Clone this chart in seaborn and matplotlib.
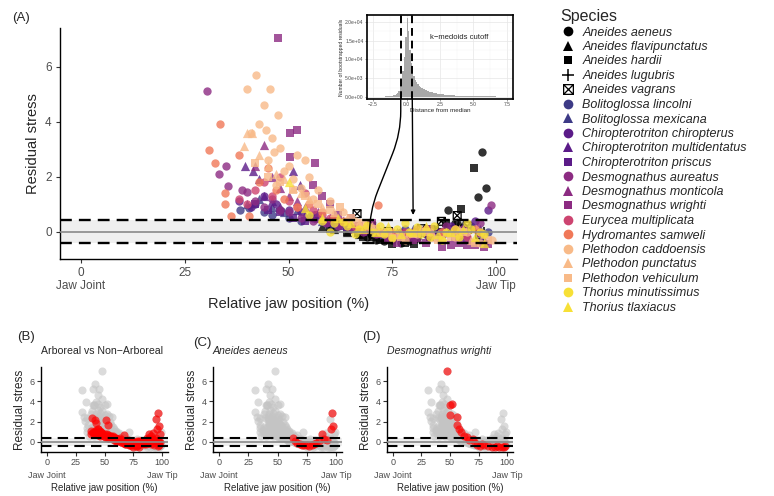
import matplotlib
matplotlib.use("Agg")
import matplotlib.pyplot as plt
from matplotlib.lines import Line2D
from matplotlib.path import Path
from matplotlib.patches import ConnectionPatch
import numpy as np
import pandas as pd
import seaborn as sns

# ---- data ----
species = ["Aneides aeneus", "Aneides flavipunctatus", "Aneides hardii", "Aneides lugubris",
           "Aneides vagrans", "Bolitoglossa lincolni", "Bolitoglossa mexicana",
           "Chiropterotriton chiropterus", "Chiropterotriton multidentatus", "Chiropterotriton priscus",
           "Desmognathus aureatus", "Desmognathus monticola", "Desmognathus wrighti",
           "Eurycea multiplicata", "Hydromantes samweli", "Plethodon caddoensis",
           "Plethodon punctatus", "Plethodon vehiculum", "Thorius minutissimus", "Thorius tlaxiacus"]

aeneus_x = [63, 65, 67, 69, 71, 73, 75, 77, 79, 81, 83, 85, 88.3, 90, 92, 95.5, 97.5, 96.6]
aeneus_y = [0.35, 0.1, -0.1, -0.2, -0.3, -0.35, -0.3, -0.4, -0.35, -0.25, -0.1, 0.1, 0.8, 0.3, 0.15, 1.27, 1.6, 2.9]
flavipunctatus_x = [58, 61, 64, 67, 70, 73, 76, 79, 82, 85, 88, 91, 94, 97]
flavipunctatus_y = [0.2, 0.1, 0.0, -0.1, -0.15, -0.2, -0.1, 0.0, 0.05, 0.1, 0.2, 0.3, 0.2, -0.3]
hardii_x = [60, 64, 68, 72, 75, 78, 80.3, 84, 88, 91.6, 94.7]
hardii_y = [0.1, 0.0, -0.2, -0.3, -0.47, -0.4, -0.47, -0.2, 0.3, 0.83, 2.3]
lugubris_x = [62, 66, 70, 74, 78, 82, 86, 90, 94, 97]
lugubris_y = [0.2, 0.0, -0.1, -0.2, -0.1, 0.0, 0.1, 0.2, 0.1, 0.0]
vagrans_x = [60, 66.5, 70, 74, 78, 82, 86.8, 90.6, 93, 96]
vagrans_y = [0.3, 0.65, 0.2, 0.0, -0.1, 0.1, 0.37, 0.58, 0.2, -0.1]
lincolni_x = [38.4, 40.4, 42, 44, 46, 48, 50, 53, 56, 59, 62, 66, 70, 74, 78, 82, 86, 90, 94, 98]
lincolni_y = [0.8, 0.87, 1.0, 0.7, 0.6, 0.8, 0.5, 0.4, 0.6, 0.3, 0.2, 0.1, 0.0, -0.1, 0.1, 0.0, -0.2, 0.1, 0.2, 0.0]
mexicana_x = [40, 43, 46, 49, 52, 55, 58, 61, 64, 67, 70, 73, 76, 80, 84, 88, 92, 96]
mexicana_y = [1.0, 1.2, 0.9, 0.7, 0.8, 0.6, 0.4, 0.3, 0.2, 0.1, 0.0, -0.1, 0.0, 0.1, -0.1, 0.0, 0.2, 0.1]
chiropterus_x = [38, 41, 44, 47, 50, 53, 56, 59, 62, 65, 68, 71, 74, 77, 80, 83, 86, 89, 92, 95, 98]
chiropterus_y = [1.1, 0.9, 1.3, 1.0, 0.8, 0.7, 0.5, 0.4, 0.3, 0.2, 0.1, 0.0, -0.1, 0.0, -0.2, -0.1, 0.0, 0.2, 0.1, 0.4, 0.8]
multidentatus_x = [39.5, 41.5, 42.8, 44, 46, 48, 51, 52.8, 54, 57, 60, 64, 68, 72, 76, 80, 84, 88, 92, 96]
multidentatus_y = [2.4, 2.2, 1.9, 1.3, 1.1, 0.9, 2.2, 1.7, 0.6, 0.5, 0.4, 0.2, 0.1, 0.0, -0.1, 0.0, 0.1, 0.0, -0.1, 0.0]
priscus_x = [42, 45, 48, 51, 54, 57, 60, 63, 66, 69, 72, 75, 78, 81, 84, 87, 90, 93, 96]
priscus_y = [1.0, 0.8, 0.7, 0.5, 0.4, 0.6, 0.3, 0.2, 0.1, 0.0, -0.1, -0.2, -0.1, 0.0, 0.1, -0.1, -0.2, -0.3, -0.4]
aureatus_x = [30.4, 33.3, 35, 35.5, 38.8, 40, 42, 44, 46, 48, 50, 53, 56, 59, 62, 65, 68, 71, 74, 77,
              80, 84, 88, 92, 96, 98.8]
aureatus_y = [5.1, 2.1, 2.4, 1.65, 1.5, 1.42, 1.1, 0.9, 1.2, 0.8, 0.7, 0.5, 0.4, 0.3, 0.2, 0.1, 0.0, -0.1, -0.2, -0.1,
              0.0, 0.1, 0.2, 0.1, 0.3, 0.95]
monticola_x = [42, 44, 46, 48, 50, 52, 54, 57, 60, 63, 66, 69, 72, 75, 78, 81, 84, 87, 90, 93, 96]
monticola_y = [2.4, 3.15, 2.0, 1.6, 1.3, 1.1, 0.9, 0.7, 0.5, 0.4, 0.2, 0.1, 0.0, -0.1, 0.0, -0.2, -0.1, 0.0, 0.1, -0.1, 0.0]
wrighti_x = [47.5, 50.4, 52, 50.4, 56.4, 56, 58, 60, 62, 65, 67, 70, 72, 74, 76, 78, 80, 83, 87, 89,
             91, 93, 95, 97, 98]
wrighti_y = [7.05, 3.6, 3.7, 2.7, 2.5, 1.7, 1.3, 1.0, 0.6, 0.5, 0.2, 0.3, -0.1, -0.3, -0.4, -0.2, -0.3, -0.4, -0.55, -0.5,
             -0.4, -0.5, -0.5, -0.55, -0.45]
multiplicata_x = [38, 40, 42, 44, 46, 48, 50, 52, 54, 56, 58, 60, 63, 66, 69, 72, 75, 78, 81, 84, 87, 90, 93, 96]
multiplicata_y = [1.2, 1.0, 1.5, 1.8, 1.3, 2.0, 1.1, 0.9, 1.4, 0.8, 0.6, 0.5, 0.4, 0.2, 0.1, 0.0, -0.1, 0.0, 0.1, -0.1,
                  0.0, 0.1, -0.2, 0.0]
samweli_x = [30.8, 32.4, 33.6, 34.8, 34.8, 36.2, 38.2, 40.5, 43, 45, 47, 49, 52, 55, 58, 61, 64, 67, 71.5, 75,
             79, 83, 87, 91, 95]
samweli_y = [2.95, 2.5, 3.9, 1.4, 1.0, 0.55, 2.8, 0.55, 1.8, 2.3, 1.5, 1.2, 0.9, 1.0, 0.7, 0.5, 0.4, 0.2, 0.98, 0.0,
             -0.1, 0.1, 0.0, -0.1, 0.1]
caddoensis_x = [40, 42.2, 45.6, 47.5, 44, 41, 43, 46, 48, 50, 52, 54, 55, 57, 60, 63, 66, 69, 72, 75,
                78, 81, 84, 87, 90, 93, 96, 99, 44.5, 46.5, 49, 51, 45, 47, 53, 56]
caddoensis_y = [5.2, 5.7, 5.2, 4.25, 4.6, 3.6, 3.9, 3.4, 3.05, 2.4, 2.8, 2.6, 2.0, 1.5, 1.1, 0.7, 0.4, 0.2, 0.0, -0.2,
                -0.3, -0.1, 0.0, -0.3, -0.2, 0.0, -0.4, -0.3, 3.7, 2.9, 2.2, 1.9, 2.6, 1.7, 1.6, 1.2]
punctatus_x = [39.4, 40, 41.3, 43, 45, 47, 49, 51, 53, 55, 58, 61, 64, 67, 70, 73, 76, 79, 82, 85, 88, 91, 94, 97]
punctatus_y = [3.1, 3.6, 3.6, 2.8, 2.4, 2.1, 1.9, 1.6, 1.4, 1.2, 0.9, 0.7, 0.5, 0.3, 0.2, 0.0, -0.1, 0.0, 0.1, -0.2,
               0.0, 0.1, -0.3, -0.1]
vehiculum_x = [42, 45, 48, 51, 54, 57, 60, 62.4, 65, 68, 71, 74, 77, 80, 83, 86, 89, 92, 95, 98]
vehiculum_y = [2.5, 2.0, 1.8, 1.5, 1.3, 1.0, 0.8, 0.9, 0.5, 0.3, 0.1, 0.0, -0.2, -0.1, 0.0, -0.3, -0.2, 0.0, -0.4, -0.3]
minutissimus_x = [55, 58, 61, 64, 67, 70, 73, 76, 79, 82, 85, 88, 91, 94, 97, 60, 66, 72, 78, 84, 90, 96,
                  63, 69, 75, 81, 87, 93]
minutissimus_y = [0.6, 0.4, 0.3, 0.2, 0.1, 0.0, -0.1, 0.1, 0.0, -0.1, 0.2, 0.0, -0.2, 0.1, -0.1, 0.0, -0.1, 0.2, 0.3,
                  -0.2, 0.1, 0.0, 0.35, 0.25, -0.25, 0.15, -0.3, 0.3]
tlaxiacus_x = [50, 54, 58, 62, 65, 68, 71, 74, 77, 80, 83, 86, 89, 92, 95, 97]
tlaxiacus_y = [1.8, 0.87, 0.5, 0.5, 0.3, 0.1, 0.0, 0.2, -0.1, 0.0, 0.2, -0.1, 0.0, 0.1, -0.2, -0.4]

arboreal = ["Aneides aeneus", "Aneides flavipunctatus", "Aneides hardii", "Aneides lugubris",
            "Aneides vagrans", "Bolitoglossa lincolni", "Bolitoglossa mexicana",
            "Chiropterotriton chiropterus", "Chiropterotriton multidentatus", "Chiropterotriton priscus"]
cutoff = 0.43

# bootstrapped residual distance histogram (bins of 0.1 from -2.8)
hist_counts = [20, 20, 30, 30, 40, 40, 50, 60, 70, 80, 90, 110, 130, 150, 180, 220, 270, 330,
               420, 560, 760, 1100, 1700,
               2900, 4600, 6800, 10500, 16000,
               21000, 17500, 12500, 9000, 7000,
               5600, 4600, 3900, 3400, 3000,
               2700, 2400, 2200, 2000, 1800,
               1650, 1500, 1400, 1300, 1200,
               1100, 1020, 950, 880, 820,
               760, 710, 660, 620, 580,
               540, 510, 480, 450, 420,
               400, 380, 360, 340, 320,
               300, 290, 280, 270, 260,
               250, 240, 230, 220, 210,
               200, 195, 190, 185, 180,
               175, 170, 165, 160, 155,
               150, 145, 140, 135, 130,
               125, 120, 115, 110, 105,
               100, 95, 90, 85, 80,
               75, 70, 65]
hist_start = -2.8
hist_width = 0.1

xtick_vals = [0, 25, 50, 75, 100]
xtick_text = ["0\nJaw Joint", "25", "50", "75", "100\nJaw Tip"]

# ---- table ----
series_x = [aeneus_x, flavipunctatus_x, hardii_x, lugubris_x, vagrans_x, lincolni_x, mexicana_x,
            chiropterus_x, multidentatus_x, priscus_x, aureatus_x, monticola_x, wrighti_x,
            multiplicata_x, samweli_x, caddoensis_x, punctatus_x, vehiculum_x, minutissimus_x, tlaxiacus_x]
series_y = [aeneus_y, flavipunctatus_y, hardii_y, lugubris_y, vagrans_y, lincolni_y, mexicana_y,
            chiropterus_y, multidentatus_y, priscus_y, aureatus_y, monticola_y, wrighti_y,
            multiplicata_y, samweli_y, caddoensis_y, punctatus_y, vehiculum_y, minutissimus_y, tlaxiacus_y]
df = pd.concat([pd.DataFrame({"species": sp, "x": xs, "y": ys})
                for sp, xs, ys in zip(species, series_x, series_y)], ignore_index=True)

hist_df = pd.DataFrame({"dist": np.round(hist_start + hist_width * (np.arange(len(hist_counts)) + 0.5), 3),
                        "n": hist_counts})

# ---- styles ----
genus_colors = {"Aneides": "#000000", "Bolitoglossa": "#3d3a86", "Chiropterotriton": "#5b1b88",
                "Desmognathus": "#8c2b82", "Eurycea": "#cd4470", "Hydromantes": "#f07858",
                "Plethodon": "#f8ba88", "Thorius": "#f7e036"}
boxx = Path([(-1, -1), (1, -1), (1, 1), (-1, 1), (-1, -1), (-1, -1), (1, 1), (-1, 1), (1, -1)],
            [Path.MOVETO, Path.LINETO, Path.LINETO, Path.LINETO, Path.CLOSEPOLY,
             Path.MOVETO, Path.LINETO, Path.MOVETO, Path.LINETO])
shape_cycle = ["o", "^", "s", "+", boxx]
marker_of, color_of = {}, {}
count = {}
for sp in species:
    g = sp.split()[0]
    k = count.get(g, 0)
    count[g] = k + 1
    marker_of[sp] = shape_cycle[k]
    color_of[sp] = genus_colors[g]
size_of = {"o": 36, "^": 44, "s": 30, "+": 48}

sns.set_style("ticks")
plt.rcParams["font.family"] = ["Liberation Sans", "DejaVu Sans"]
plt.rcParams["axes.unicode_minus"] = True

fig = plt.figure(figsize=(7.74, 4.96), dpi=100)
W, H = 774, 496


def px_axes(l, t, r, b):
    return fig.add_axes([l / W, 1 - b / H, (r - l) / W, (b - t) / H])


def base_panel(a, tick_size, xlab_size, ylab_size, lw_dash, pad, labelpad, lsp):
    a.axhspan(-cutoff, cutoff, color="#efefef", lw=0, zorder=0)
    a.axhline(0, color="#8a8a8a", lw=1.2, zorder=3)
    for v in (-cutoff, cutoff):
        a.axhline(v, color="black", lw=lw_dash, ls=(0, (5, 3)), zorder=4)
    a.set_xlim(-5, 105)
    a.set_ylim(-1, 7.4)
    a.set_xticks(xtick_vals)
    a.set_xticklabels(xtick_text, linespacing=lsp)
    a.set_yticks([0, 2, 4, 6])
    a.tick_params(labelsize=tick_size, colors="#4d4d4d", length=3, width=0.8, pad=pad)
    a.tick_params(axis="both", color="#333333")
    for s in ("left", "bottom"):
        a.spines[s].set_linewidth(1.0)
        a.spines[s].set_color("black")
    sns.despine(ax=a)
    a.set_xlabel("Relative jaw position (%)", fontsize=xlab_size, labelpad=labelpad)
    a.set_ylabel("Residual stress", fontsize=ylab_size, labelpad=labelpad)


# ---- panel A ----
ax = px_axes(60, 28, 517, 259)
for sp in species:
    d = df[df.species == sp]
    m = marker_of[sp]
    if m is boxx:
        ax.scatter(d.x, d.y, marker=boxx, s=32, facecolors="none", edgecolors="black",
                   linewidths=0.9, zorder=2)
    elif m == "+":
        sns.scatterplot(data=d, x="x", y="y", marker="+", color=color_of[sp], s=size_of[m],
                        linewidth=1.1, ax=ax, zorder=2, legend=False)
    else:
        sns.scatterplot(data=d, x="x", y="y", marker=m, color=color_of[sp], s=size_of[m],
                        linewidth=0, alpha=0.8, ax=ax, zorder=2, legend=False)
base_panel(ax, 8.5, 10.5, 10.5, 1.7, 3, 3.5, 1.1)
fig.text(12 / W, 1 - 18 / H, "(A)", fontsize=9.5, va="center", ha="left")

# ---- inset histogram ----
ins = px_axes(367, 15, 513, 99)
sns.histplot(data=hist_df, x="dist", weights="n", binwidth=hist_width,
             binrange=(hist_start, hist_start + hist_width * len(hist_counts)),
             color="#a8a8a8", alpha=1, linewidth=0, ax=ins, zorder=2)
ins.set_xlim(-2.95, 7.95)
ins.set_ylim(-550, 21800)
ins.set_xticks([-2.5, 0, 2.5, 5, 7.5])
ins.set_xticklabels(["−2.5", "0.0", "2.5", "5.0", "7.5"])
ins.set_yticks([0, 5000, 10000, 15000, 20000])
ins.set_yticklabels(["0.0e+00", "5.0e+03", "1.0e+04", "1.5e+04", "2.0e+04"])
ins.set_xticks([-1.25, 1.25, 3.75, 6.25], minor=True)
ins.set_yticks([2500, 7500, 12500, 17500], minor=True)
ins.grid(True, which="major", color="#e6e6e6", lw=0.5, zorder=0)
ins.grid(True, which="minor", color="#f2f2f2", lw=0.3, zorder=0)
ins.set_axisbelow(True)
ins.tick_params(which="major", labelsize=3.6, length=1.5, width=0.4, pad=1, colors="#4d4d4d")
ins.tick_params(which="minor", length=0)
for s in ins.spines.values():
    s.set_visible(True)
    s.set_linewidth(1.2)
    s.set_color("black")
for v in (-cutoff, cutoff):
    ins.axvline(v, color="black", lw=1.4, ls=(0, (4, 2.5)), zorder=4)
ins.set_xlabel("Distance from median", fontsize=4.5, labelpad=0.5)
ins.set_ylabel("Number of bootstrapped residuals", fontsize=3.6, labelpad=1)
ins.text(1.75, 15700, "k−medoids cutoff", fontsize=5.5, ha="left", va="center")

# arrows from the cutoff lines down to the main panel
fig.add_artist(ConnectionPatch(xyA=(-cutoff, -550), coordsA=ins.transData,
                               xyB=(69.5, -0.3), coordsB=ax.transData,
                               connectionstyle="arc,angleA=-90,angleB=90,armA=34,armB=28,rad=22",
                               arrowstyle="-|>", mutation_scale=6, lw=1.0, color="black", zorder=6))
fig.add_artist(ConnectionPatch(xyA=(cutoff, -550), coordsA=ins.transData,
                               xyB=(80, 0.6), coordsB=ax.transData,
                               arrowstyle="-|>", mutation_scale=6, lw=1.0, color="black", zorder=6))

# ---- legend ----
handles = []
for sp in species:
    m = marker_of[sp]
    if m is boxx:
        h = Line2D([], [], marker=boxx, ls="none", markersize=7, markerfacecolor="none",
                   markeredgecolor="black", markeredgewidth=0.9)
    elif m == "+":
        h = Line2D([], [], marker="+", ls="none", markersize=9, color="black", markeredgewidth=1.1)
    else:
        ms = {"o": 7, "^": 7.5, "s": 6.3}[m]
        h = Line2D([], [], marker=m, ls="none", markersize=ms, color=color_of[sp],
                   markeredgewidth=0)
    handles.append(h)
leg = fig.legend(handles, species, loc="upper left", bbox_to_anchor=(555 / W, 1 - 4 / H),
                 frameon=False, title="Species", alignment="left",
                 prop={"style": "italic", "size": 9}, title_fontsize=11.5,
                 labelspacing=0.2, handletextpad=0.6, handlelength=1.2, borderaxespad=0)

# ---- panels B, C, D ----
small = [(41, 168, "(B)", 17, 337, "Arboreal vs Non−Arboreal", "normal", arboreal),
         (213, 342, "(C)", 193, 343, "Aneides aeneus", "italic", ["Aneides aeneus"]),
         (387, 513, "(D)", 362, 337, "Desmognathus wrighti", "italic", ["Desmognathus wrighti"])]
for l, r, tag, tx, ty, title, style, subset in small:
    a = px_axes(l, 367, r, 452)
    sns.scatterplot(data=df, x="x", y="y", color="#c4c4c4", alpha=0.6, s=34, linewidth=0,
                    ax=a, legend=False, zorder=2)
    sub = df[df.species.isin(subset)]
    sns.scatterplot(data=sub, x="x", y="y", color="#ff0000", alpha=0.65, s=34, linewidth=0,
                    ax=a, legend=False, zorder=2.5)
    base_panel(a, 6.5, 7, 8.5, 1.5, 1.5, 2.5, 1.5)
    a.set_title(title, loc="left", fontsize=7.6, style=style, pad=9)
    fig.text(tx / W, 1 - ty / H, tag, fontsize=9.5, va="center", ha="left")

fig.savefig("out.png", dpi=100)
